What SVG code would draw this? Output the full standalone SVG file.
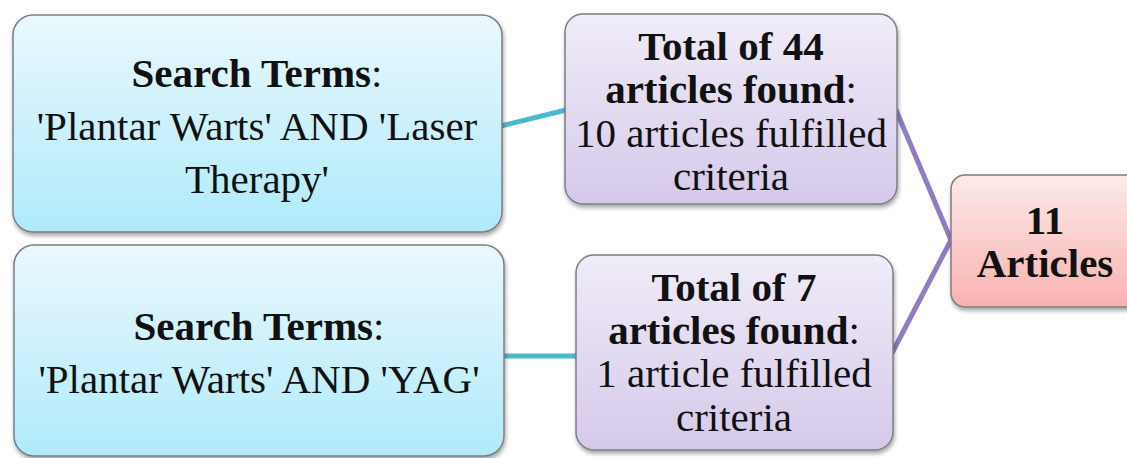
<svg xmlns="http://www.w3.org/2000/svg" width="1127" height="458" viewBox="0 0 1127 458">
<defs>
<linearGradient id="gCyan" x1="0" y1="0" x2="0" y2="1">
<stop offset="0" stop-color="#eaf8fd"/>
<stop offset="1" stop-color="#afeafb"/>
</linearGradient>
<linearGradient id="gPurple" x1="0" y1="0" x2="0" y2="1">
<stop offset="0" stop-color="#f0ecf8"/>
<stop offset="1" stop-color="#d5c9ea"/>
</linearGradient>
<linearGradient id="gRed" x1="0" y1="0" x2="0" y2="1">
<stop offset="0" stop-color="#fdeaea"/>
<stop offset="1" stop-color="#f8b2b0"/>
</linearGradient>
<filter id="sh" x="-10%" y="-10%" width="120%" height="125%">
<feDropShadow dx="1" dy="3" stdDeviation="2" flood-color="#000" flood-opacity="0.35"/>
</filter>
</defs>
<style>
.box{stroke:#7a7f85;stroke-width:1.5;filter:url(#sh)}
.cy{fill:url(#gCyan)}
.pu{fill:url(#gPurple)}
.rd{fill:url(#gRed)}
text{font-family:'Liberation Serif','Times New Roman',serif;font-size:41px;fill:#111;text-anchor:middle}
.b{font-weight:bold}
.conC{stroke:#4bb8d2;stroke-width:5;fill:none}
.conP{stroke:#8f7cc2;stroke-width:5;fill:none}
</style>
<g id="connectors">
<line class="conC" x1="501" y1="126" x2="566" y2="110"/>
<line class="conC" x1="503" y1="356" x2="577" y2="356"/>
<line class="conP" x1="896" y1="110" x2="951" y2="240"/>
<line class="conP" x1="892" y1="353" x2="951" y2="240"/>
</g>
<g id="searchLaser">
<rect class="box cy" x="13" y="15" width="489" height="217" rx="20"/>
<text x="257" y="87"><tspan class="b">Search Terms</tspan>:</text>
<text x="257" y="140">'Plantar Warts' AND 'Laser</text>
<text x="257" y="193">Therapy'</text>
</g>
<g id="searchYAG">
<rect class="box cy" x="14" y="245" width="490" height="211" rx="20"/>
<text x="259" y="340"><tspan class="b">Search Terms</tspan>:</text>
<text x="259" y="393">'Plantar Warts' AND 'YAG'</text>
</g>
<g id="found44">
<rect class="box pu" x="565" y="14" width="332" height="190" rx="18"/>
<text x="731" y="60" class="b">Total of 44</text>
<text x="731" y="103"><tspan class="b">articles found</tspan>:</text>
<text x="731" y="147">10 articles fulfilled</text>
<text x="731" y="190">criteria</text>
</g>
<g id="found7">
<rect class="box pu" x="576" y="255" width="317" height="195" rx="18"/>
<text x="734" y="301" class="b">Total of 7</text>
<text x="734" y="344"><tspan class="b">articles found</tspan>:</text>
<text x="734" y="387">1 article fulfilled</text>
<text x="734" y="431">criteria</text>
</g>
<g id="result">
<rect class="box rd" x="951" y="175" width="200" height="132" rx="14"/>
<text x="1045" y="234" class="b">11</text>
<text x="1045" y="277" class="b">Articles</text>
</g>
</svg>
